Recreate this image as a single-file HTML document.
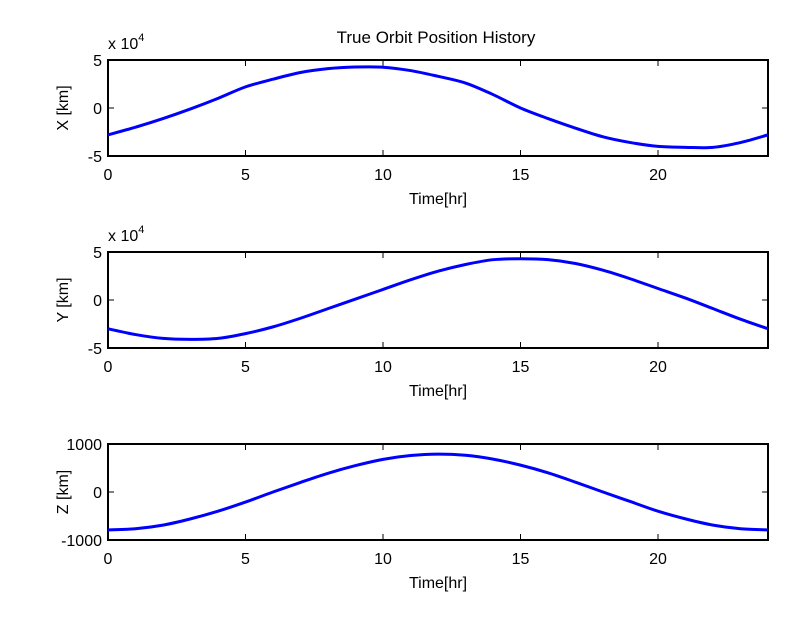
<!DOCTYPE html>
<html><head><meta charset="utf-8"><style>
body{margin:0;background:#fff;}
svg{display:block;font-family:"Liberation Sans",Arial,sans-serif;}
</style></head><body>
<svg id="c" width="796" height="626" xmlns="http://www.w3.org/2000/svg">
<text x="436" y="43" font-size="17" text-anchor="middle">True Orbit Position History</text>
</svg>
<script>
const hours=[0,1,2,3,4,5,6,7,8,9,10,11,12,13,14,15,16,17,18,19,20,21,22,23,24];
const xVals=[-2.8,-2.0,-1.1,-0.1,1.0,2.2,3.0,3.7,4.1,4.27,4.25,3.9,3.3,2.6,1.4,0.0,-1.1,-2.1,-3.0,-3.6,-4.0,-4.1,-4.1,-3.6,-2.8];
const yVals=[-3.0,-3.6,-4.0,-4.1,-4.0,-3.5,-2.8,-1.9,-0.9,0.1,1.1,2.1,3.0,3.7,4.2,4.3,4.2,3.8,3.1,2.2,1.2,0.2,-0.9,-2.0,-3.0];
const zVals=[-790,-765,-690,-560,-400,-210,0,200,390,550,680,760,790,765,685,560,400,205,0,-200,-400,-560,-690,-765,-790];
const xTicks=[0,5,10,15,20];
const ns="http://www.w3.org/2000/svg";
const svg=document.getElementById('c');
const L=108,R=768;
function mk(tag,attrs,parent){const e=document.createElementNS(ns,tag);for(const k in attrs)e.setAttribute(k,attrs[k]);(parent||svg).appendChild(e);return e;}
function smooth(p){let d='M'+p[0][0]+','+p[0][1];for(let i=0;i<p.length-1;i++){const p0=p[i-1]||p[i],p1=p[i],p2=p[i+1],p3=p[i+2]||p2;const c1x=p1[0]+(p2[0]-p0[0])/6,c1y=p1[1]+(p2[1]-p0[1])/6,c2x=p2[0]-(p3[0]-p1[0])/6,c2y=p2[1]-(p3[1]-p1[1])/6;d+=' C'+c1x+','+c1y+' '+c2x+','+c2y+' '+p2[0]+','+p2[1];}return d;}
function panel(top,bot,vals,yMin,yMax,yTickLabels,yTickVals,ylabel,exp,name){
  const g=mk('g',{});
  
  
  const sx=t=>L+(t/24)*(R-L);
  const sy=v=>bot-(v-yMin)/(yMax-yMin)*(bot-top);
  const fr=mk('rect',{x:L,y:top,width:R-L,height:bot-top,fill:'#fff',stroke:'#000','stroke-width':2},g);
  
  
  xTicks.forEach(t=>{
    mk('line',{x1:sx(t),x2:sx(t),y1:bot,y2:bot-6,stroke:'#000'},g);
    mk('line',{x1:sx(t),x2:sx(t),y1:top,y2:top+6,stroke:'#000'},g);
    const tx=mk('text',{x:sx(t),y:bot+24,'font-size':16,'text-anchor':'middle'},g);
    tx.textContent=t;
    
    
  });
  yTickVals.forEach((v,i)=>{
    mk('line',{x1:L,x2:L+6,y1:sy(v),y2:sy(v),stroke:'#000'},g);
    mk('line',{x1:R,x2:R-6,y1:sy(v),y2:sy(v),stroke:'#000'},g);
    const tx=mk('text',{x:L-6,y:sy(v)+6,'font-size':16,'text-anchor':'end'},g);
    tx.textContent=yTickLabels[i];
    
    
  });
  const pts=hours.map((t,i)=>[sx(t),sy(vals[i])]);
  const pl=mk('path',{d:smooth(pts),fill:'none',stroke:'#0000ff','stroke-width':3,'stroke-linejoin':'round'},g);
  
  
  const xl=mk('text',{x:(L+R)/2,y:bot+48,'font-size':16,'text-anchor':'middle'},g);
  xl.textContent='Time[hr]';
  
  
  const yl=mk('text',{x:0,y:0,'font-size':16,'text-anchor':'middle',transform:'translate(68,'+((top+bot)/2)+') rotate(-90)'},g);
  yl.textContent=ylabel;
  
  
  if(exp){
    const ex=mk('text',{x:108,y:top-11,'font-size':16},g);
    ex.innerHTML='x 10<tspan dy="-8" font-size="11">4</tspan>';
    
    
  }
}
panel(60,156,xVals,-5,5,['5','0','-5'],[5,0,-5],'X [km]',true,'x-position');
panel(252,348,yVals,-5,5,['5','0','-5'],[5,0,-5],'Y [km]',true,'y-position');
panel(444,540,zVals,-1000,1000,['1000','0','-1000'],[1000,0,-1000],'Z [km]',false,'z-position');
</script>
</body></html>
